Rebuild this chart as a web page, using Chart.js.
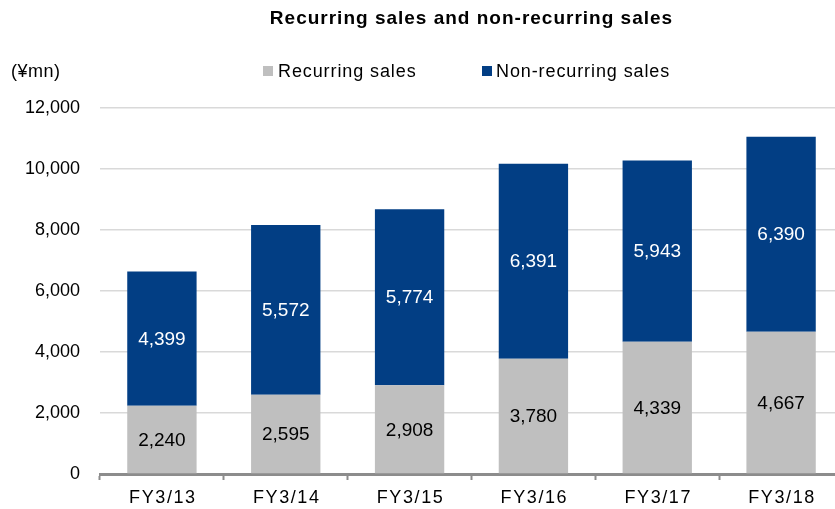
<!DOCTYPE html>
<html>
<head>
<meta charset="utf-8">
<script src="https://cdn.jsdelivr.net/npm/chart.js"></script>
<style>
  html, body { margin: 0; padding: 0; background: #fff; overflow: hidden; }
  .wrap { width: 845px; height: 509px; }
</style>
</head>
<body>
<div class="wrap">
  <canvas id="chart" width="845" height="509"></canvas>
</div>
<script>
const years = ['FY3/13', 'FY3/14', 'FY3/15', 'FY3/16', 'FY3/17', 'FY3/18'];
const recurring = [2240, 2595, 2908, 3780, 4339, 4667];
const nonRecurring = [4399, 5572, 5774, 6391, 5943, 6390];
const yTicks = [0, 2000, 4000, 6000, 8000, 10000, 12000];

const GRAY = '#bfbfbf';
const BLUE = '#023e84';
const FONT = '"Liberation Sans", Arial, sans-serif';

const fmt = v => v.toLocaleString('en-US');

// title, legend, unit label, x labels and value labels
const extras = {
  id: 'extras',
  afterDatasetsDraw(chart) {
    const ctx = chart.ctx;
    const area = chart.chartArea;
    const mid = (area.left + area.right) / 2;
    ctx.save();

    ctx.fillStyle = '#000';
    ctx.textBaseline = 'middle';
    ctx.textAlign = 'center';
    ctx.letterSpacing = '1px';
    ctx.font = 'bold 19px ' + FONT;
    ctx.fillText('Recurring sales and non-recurring sales', mid, 19);

    ctx.font = '18px ' + FONT;
    ctx.textAlign = 'left';
    ctx.letterSpacing = '0.5px';
    ctx.fillText('(¥mn)', 11, 72);

    ctx.letterSpacing = '0.9px';
    ctx.fillStyle = GRAY;
    ctx.fillRect(263, 66, 10, 10);
    ctx.fillStyle = '#000';
    ctx.fillText('Recurring sales', 278, 72);
    ctx.fillStyle = BLUE;
    ctx.fillRect(482, 66, 10, 10);
    ctx.fillStyle = '#000';
    ctx.fillText('Non-recurring sales', 496, 72);

    // category labels
    const xs = chart.scales.x;
    ctx.textAlign = 'center';
    ctx.letterSpacing = '1.6px';
    years.forEach((lab, i) => {
      ctx.fillText(lab, xs.getPixelForValue(i) + 1, area.bottom + 24);
    });

    ctx.letterSpacing = '0px';
    ctx.font = '19px ' + FONT;
    chart.data.datasets.forEach((ds, i) => {
      const meta = chart.getDatasetMeta(i);
      ctx.fillStyle = i === 0 ? '#000' : '#fff';
      meta.data.forEach((bar, j) => {
        const y = (bar.y + bar.base) / 2;
        ctx.fillText(fmt(ds.data[j]), bar.x, y + 1);
      });
    });
    ctx.restore();
  }
};

new Chart(document.getElementById('chart'), {
  type: 'bar',
  data: {
    labels: years,
    datasets: [
      { label: 'Recurring sales', data: recurring, backgroundColor: GRAY,
        barPercentage: 0.56, categoryPercentage: 1 },
      { label: 'Non-recurring sales', data: nonRecurring, backgroundColor: BLUE,
        barPercentage: 0.56, categoryPercentage: 1 }
    ]
  },
  options: {
    responsive: false,
    animation: false,
    layout: { padding: { top: 108, right: 2, left: 0, bottom: 0 } },
    plugins: {
      legend: { display: false },
      title: { display: false },
      tooltip: { enabled: false }
    },
    scales: {
      x: {
        stacked: true,
        afterFit(scale) { scale.height = 35; },
        border: { color: '#8c8c8c', width: 3 },
        grid: {
          offset: true,
          drawOnChartArea: false,
          drawTicks: true,
          tickLength: 6,
          tickColor: '#8c8c8c',
          tickWidth: 2
        },
        ticks: { color: 'rgba(0,0,0,0)', padding: 5, font: { family: FONT, size: 18 } }
      },
      y: {
        stacked: true,
        min: 0,
        max: 12000,
        afterFit(scale) { scale.width = 100; },
        afterBuildTicks(scale) { scale.ticks = yTicks.map(v => ({ value: v })); },
        border: { display: false },
        grid: { color: '#d9d9d9', lineWidth: 1.5, drawTicks: false },
        ticks: {
          color: '#000',
          padding: 20,
          font: { family: FONT, size: 18 },
          callback: v => fmt(v)
        }
      }
    }
  },
  plugins: [extras]
});
</script>
</body>
</html>
